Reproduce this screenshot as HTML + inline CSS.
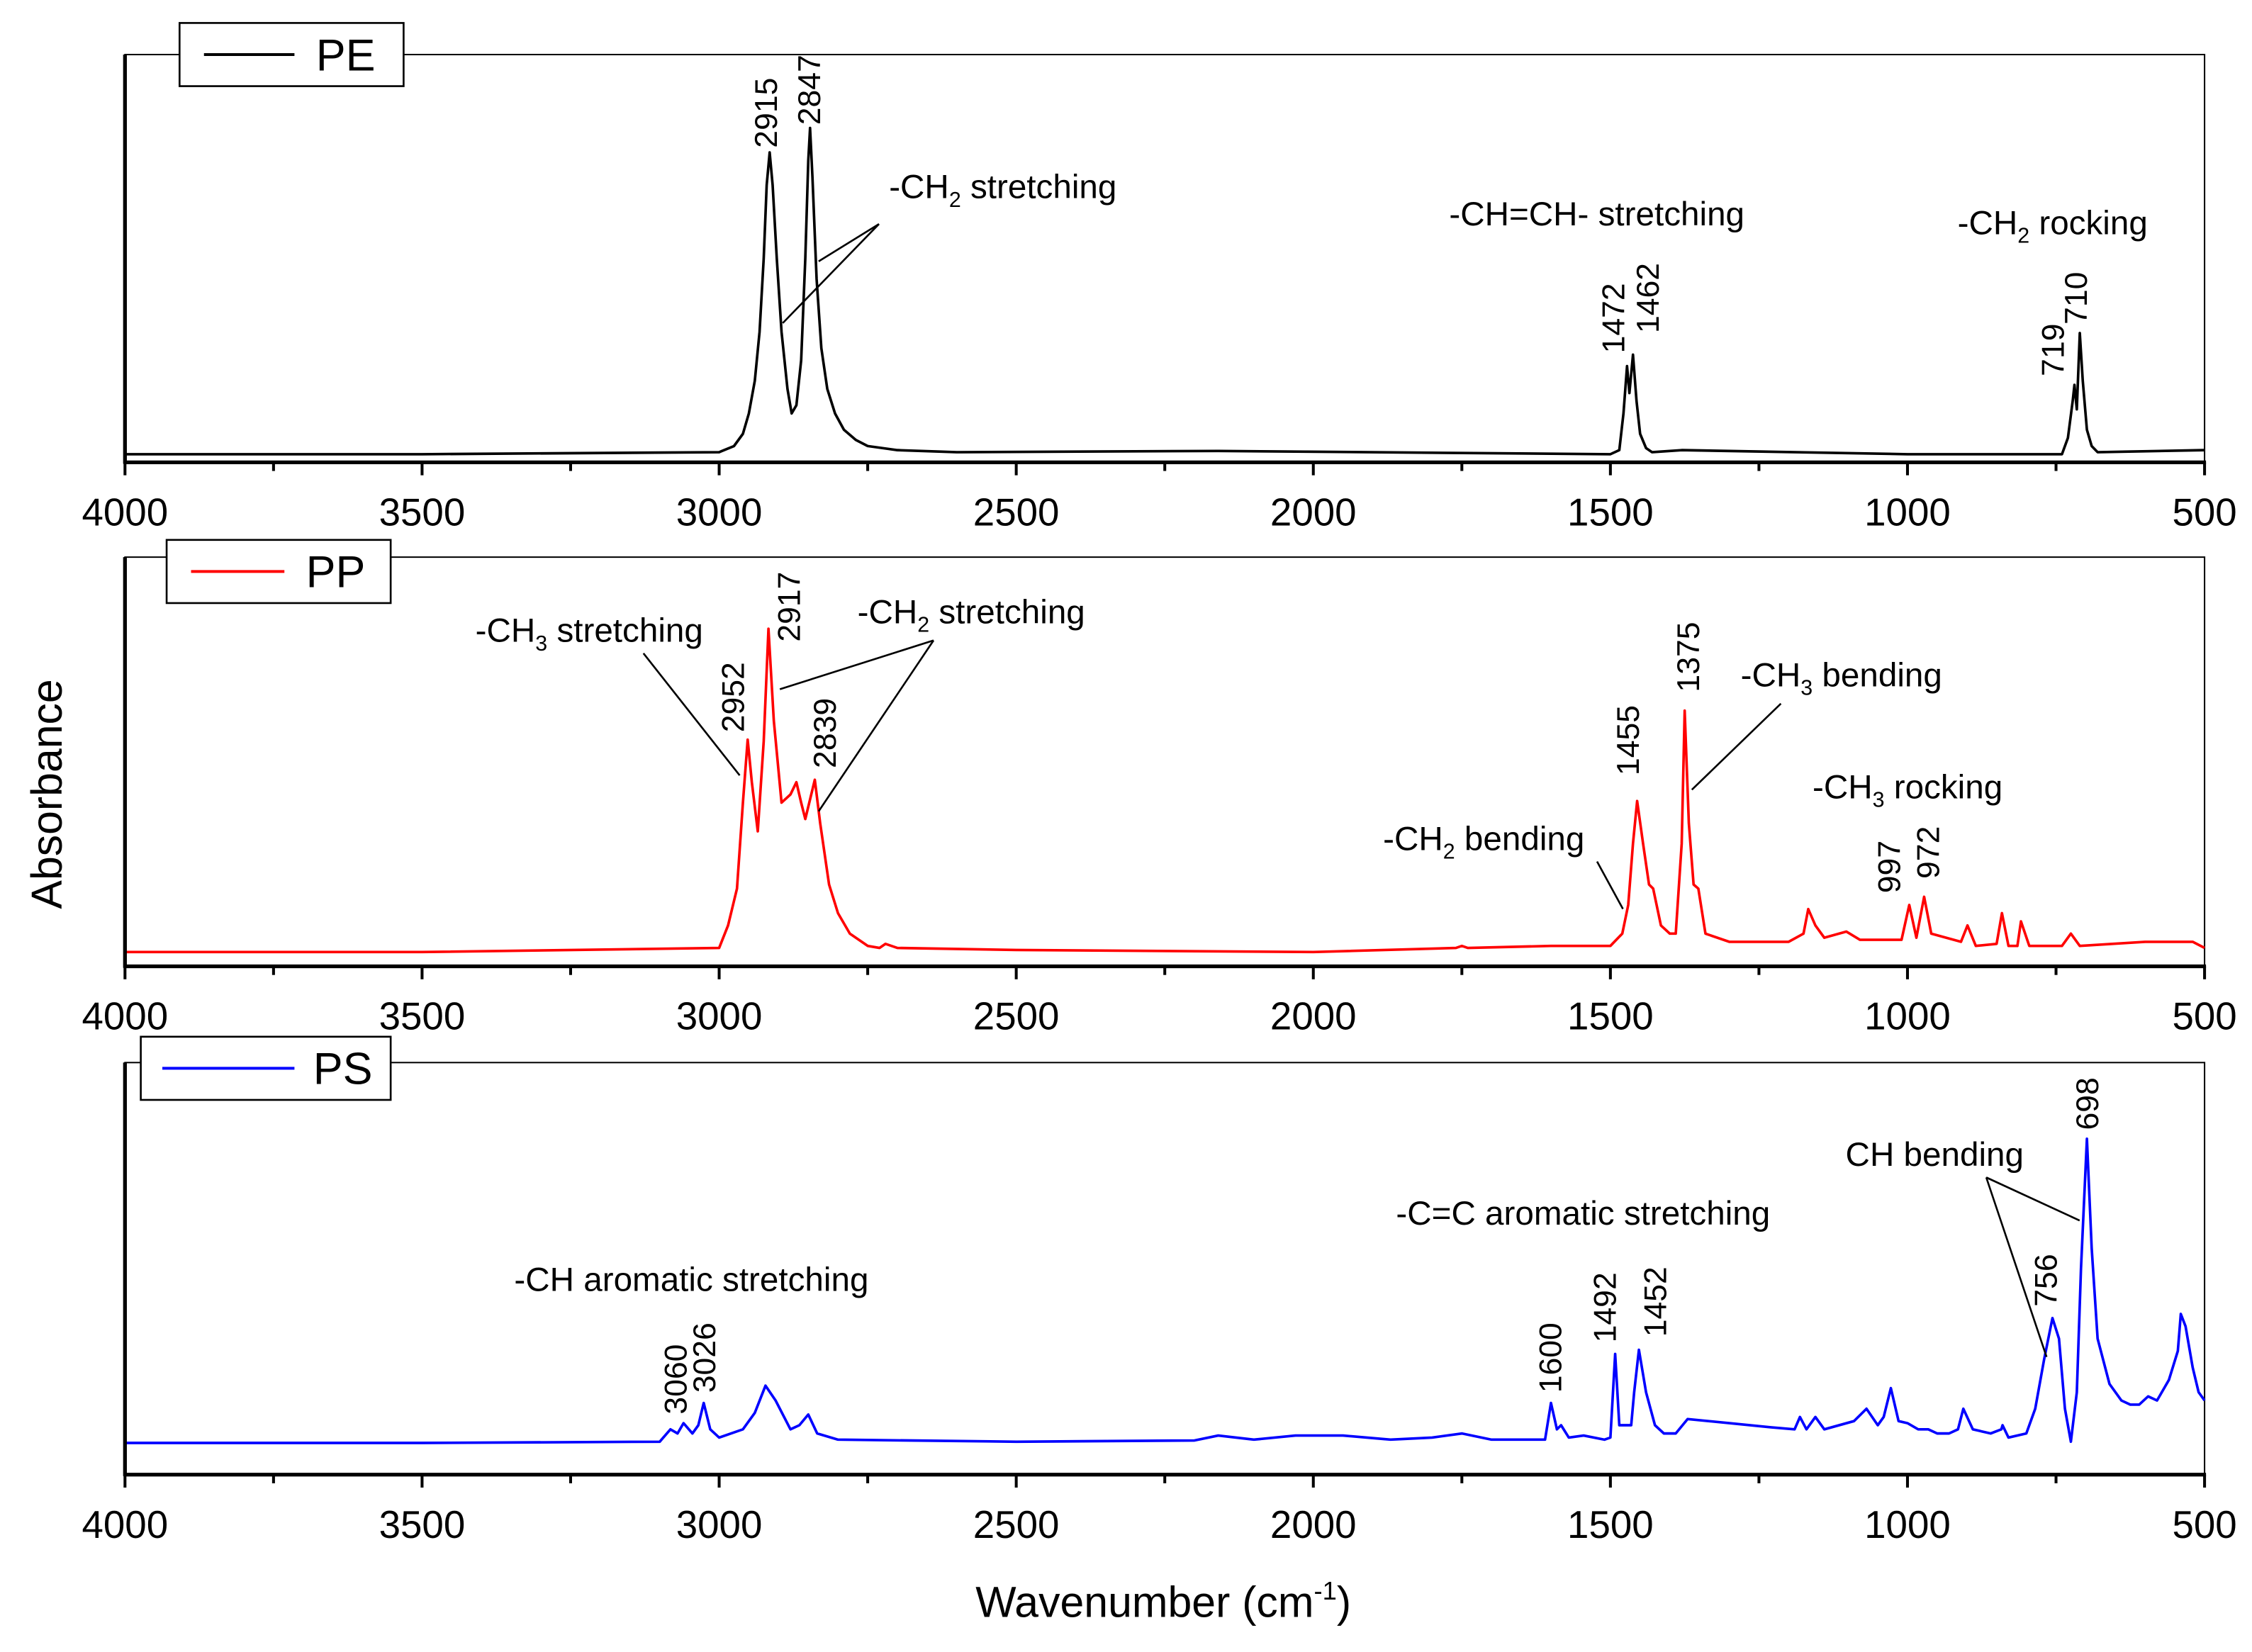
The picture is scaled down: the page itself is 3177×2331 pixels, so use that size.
<!DOCTYPE html>
<html><head><meta charset="utf-8"><style>
html,body{margin:0;padding:0;background:#fff;}
svg{display:block;}
text{font-family:"Liberation Sans",Arial,sans-serif;fill:#000;}
</style></head><body>
<svg id="chart" xmlns="http://www.w3.org/2000/svg" width="3177" height="2331" viewBox="0 0 1568 1150.5">
<rect x="0" y="0" width="1568" height="1150.5" fill="#fff"/>
<g id="plots"></g>
<g id="annot" font-size="23.5"></g>
<text x="43" y="553" font-size="30" text-anchor="middle" transform="rotate(-90 43 553)">Absorbance</text>
<text x="810" y="1126" font-size="30" text-anchor="middle">Wavenumber (cm<tspan font-size="18" dy="-12">-1</tspan><tspan dy="12">)</tspan></text>
</svg>
<script>
const xTicks = [4000,3500,3000,2500,2000,1500,1000,500];
const peWave = [4000,3700,3500,3000,2975,2960,2950,2940,2932,2925,2920,2915,2910,2903,2895,2885,2878,2870,2862,2855,2850,2847,2843,2836,2828,2818,2805,2790,2770,2750,2700,2600,2160,1500,1485,1478,1472,1468,1462,1456,1450,1440,1430,1380,1000,740,730,722,719,715,710,705,698,690,680,500];
const peAbs  = [0.02,0.02,0.02,0.025,0.04,0.07,0.12,0.2,0.32,0.5,0.68,0.76,0.68,0.5,0.32,0.18,0.12,0.14,0.25,0.5,0.74,0.82,0.7,0.45,0.28,0.18,0.12,0.08,0.055,0.04,0.03,0.025,0.028,0.02,0.03,0.12,0.236,0.17,0.264,0.15,0.07,0.035,0.025,0.03,0.02,0.02,0.06,0.15,0.19,0.13,0.317,0.2,0.08,0.04,0.025,0.03];
const ppWave = [4000,3500,3000,2985,2970,2960,2952,2945,2935,2925,2917,2908,2895,2880,2870,2862,2855,2845,2839,2830,2815,2800,2780,2750,2730,2720,2700,2500,2000,1760,1750,1740,1600,1500,1480,1470,1462,1455,1445,1435,1428,1415,1400,1390,1380,1375,1368,1360,1352,1340,1300,1255,1200,1175,1167,1155,1140,1103,1080,1010,997,985,972,960,910,899,885,850,841,830,815,809,795,740,725,710,600,520,500];
const ppAbs  = [0.035,0.035,0.045,0.1,0.19,0.4,0.554,0.45,0.33,0.55,0.825,0.6,0.4,0.42,0.45,0.4,0.36,0.42,0.456,0.35,0.2,0.13,0.08,0.05,0.045,0.055,0.045,0.04,0.035,0.045,0.05,0.045,0.05,0.05,0.08,0.15,0.3,0.404,0.3,0.2,0.19,0.1,0.08,0.08,0.3,0.625,0.35,0.2,0.19,0.08,0.06,0.06,0.06,0.08,0.14,0.1,0.07,0.085,0.065,0.065,0.15,0.07,0.17,0.08,0.06,0.1,0.05,0.055,0.13,0.05,0.05,0.11,0.05,0.05,0.08,0.05,0.06,0.06,0.045];
const psWave = [4000,3500,3100,3082,3070,3060,3045,3035,3026,3015,3000,2960,2940,2922,2905,2880,2865,2850,2835,2800,2500,2200,2160,2100,2030,1950,1870,1800,1750,1700,1610,1600,1590,1583,1570,1545,1510,1500,1492,1485,1465,1460,1452,1440,1425,1410,1390,1370,1300,1230,1190,1181,1170,1155,1140,1090,1069,1050,1040,1028,1015,1000,982,965,950,930,915,906,890,860,842,840,830,800,785,770,756,745,735,725,715,708,698,690,680,660,640,625,610,595,580,560,545,540,532,520,510,500];
const psAbs  = [0.077,0.077,0.08,0.11,0.1,0.125,0.1,0.12,0.174,0.11,0.09,0.11,0.15,0.216,0.18,0.11,0.12,0.146,0.1,0.085,0.08,0.083,0.095,0.085,0.095,0.095,0.085,0.09,0.1,0.085,0.085,0.174,0.11,0.12,0.09,0.095,0.085,0.09,0.293,0.12,0.12,0.2,0.303,0.2,0.12,0.1,0.1,0.135,0.125,0.115,0.11,0.14,0.11,0.14,0.11,0.13,0.16,0.12,0.14,0.21,0.13,0.125,0.11,0.11,0.1,0.1,0.11,0.16,0.11,0.1,0.11,0.12,0.09,0.1,0.16,0.28,0.38,0.33,0.16,0.08,0.2,0.5,0.815,0.55,0.33,0.22,0.18,0.17,0.17,0.19,0.18,0.23,0.3,0.39,0.36,0.26,0.2,0.18];

const NS='http://www.w3.org/2000/svg';
const XL=87, XR=1535;
function xScale(w){return XL+(4000-w)/3500*(XR-XL);}
function mk(tag,attrs,parent){const e=document.createElementNS(NS,tag);for(const k in attrs)e.setAttribute(k,attrs[k]);parent.appendChild(e);return e;}
const panels=[
 {id:'pe',top:38,bot:322,wave:peWave,abs:peAbs,color:'#000',label:'PE',box:[125,16,156,44],line:[142,205],tx:220},
 {id:'pp',top:388,bot:673,wave:ppWave,abs:ppAbs,color:'#ff0000',label:'PP',box:[116,376,156,44],line:[133,198],tx:213},
 {id:'ps',top:740,bot:1027,wave:psWave,abs:psAbs,color:'#0000ff',label:'PS',box:[98,722,174,44],line:[113,205],tx:218}
];
const root=document.getElementById('plots');
panels.forEach(p=>{
  const g=mk('g',{},root);
  
  
  const yS=a=>p.bot-a*(p.bot-p.top);
  const fr=mk('rect',{x:XL,y:p.top,width:XR-XL,height:p.bot-p.top,fill:'none',stroke:'#000','stroke-width':1},g);
  
  
  const pts=p.wave.map((w,i)=>xScale(w).toFixed(2)+','+yS(p.abs[i]).toFixed(2)).join(' ');
  const pl=mk('polyline',{points:pts,fill:'none',stroke:p.color,'stroke-width':1.8,'stroke-linejoin':'round'},g);
  
  
  const la=mk('line',{x1:XL,y1:p.top,x2:XL,y2:p.bot+1,stroke:'#000','stroke-width':2.6},g);
  
  
  const ba=mk('line',{x1:XL-1,y1:p.bot,x2:XR+1,y2:p.bot,stroke:'#000','stroke-width':2.6},g);
  
  
  for(let w=4000;w>=500;w-=250){
    const major=(w%500===0);
    const t=mk('line',{x1:xScale(w),y1:p.bot,x2:xScale(w),y2:p.bot+(major?9:6),stroke:'#000','stroke-width':2},g);
    
    
  }
  xTicks.forEach(w=>{
    const t=mk('text',{x:xScale(w),y:p.bot+44,'font-size':27,'text-anchor':'middle'},g);
    t.textContent=w;
    
    
  });
  const lg=mk('g',{},g);
  
  
  mk('rect',{x:p.box[0],y:p.box[1],width:p.box[2],height:p.box[3],fill:'#fff',stroke:'#000','stroke-width':1.3},lg);
  const ly=p.box[1]+p.box[3]/2;
  mk('line',{x1:p.line[0],y1:ly,x2:p.line[1],y2:ly,stroke:p.color,'stroke-width':2},lg);
  const lt=mk('text',{x:p.tx,y:ly+11,'font-size':31},lg);
  lt.textContent=p.label;
});

const A=document.getElementById('annot');
function rot(x,yb,txt){const t=mk('text',{x:x,y:yb,transform:'rotate(-90 '+x+' '+yb+')','font-size':22},A);t.textContent=txt;
 
 }
function lab(x,y,pre,sub,post,name){const t=mk('text',{x:x,y:y,'font-size':23.5},A);
 
 
 if(sub){t.appendChild(document.createTextNode(pre));const s=mk('tspan',{'font-size':15,dy:6},t);s.textContent=sub;const r=mk('tspan',{dy:-6},t);r.textContent=post;}
 else t.textContent=pre;}
function ln(x1,y1,x2,y2){const l=mk('line',{x1,y1,x2,y2,stroke:'#000','stroke-width':1.3},A);
 
 }
rot(541,103,'2915'); rot(571,87,'2847'); rot(1131,246,'1472'); rot(1155,232,'1462'); rot(1437,262,'719'); rot(1453,226,'710');
lab(619,138,'-CH','2',' stretching','pe-ch2-stretching-label');
lab(1009,157,'-CH=CH- stretching','','','pe-chch-label');
lab(1363,163,'-CH','2',' rocking','pe-ch2-rocking-label');
ln(612,156,545,225); ln(612,156,570,182);
lab(331,447,'-CH','3',' stretching','pp-ch3-stretching-label');
lab(597,434,'-CH','2',' stretching','pp-ch2-stretching-label');
rot(518,510,'2952'); rot(557,447,'2917'); rot(582,535,'2839');
ln(448,455,515,540); ln(650,446,543,480); ln(650,446,570,565);
rot(1141,540,'1455'); rot(1183,482,'1375');
lab(1212,478,'-CH','3',' bending','pp-ch3-bending-label'); ln(1240,490,1178,550);
lab(963,592,'-CH','2',' bending','pp-ch2-bending-label'); ln(1112,600,1130,633);
lab(1262,556,'-CH','3',' rocking','pp-ch3-rocking-label');
rot(1323,622,'997'); rot(1350,612,'972');
lab(358,899,'-CH aromatic stretching','','','ps-ch-aromatic-label');
rot(478,985,'3060'); rot(498,970,'3026');
rot(1087,970,'1600'); rot(1125,935,'1492'); rot(1160,931,'1452');
lab(972,853,'-C=C aromatic stretching','','','ps-cc-aromatic-label');
lab(1285,812,'CH bending','','','ps-ch-bending-label');
ln(1383,820,1425,945); ln(1383,820,1448,850);
rot(1432,910,'756'); rot(1461,787,'698');
</script>
</body></html>
